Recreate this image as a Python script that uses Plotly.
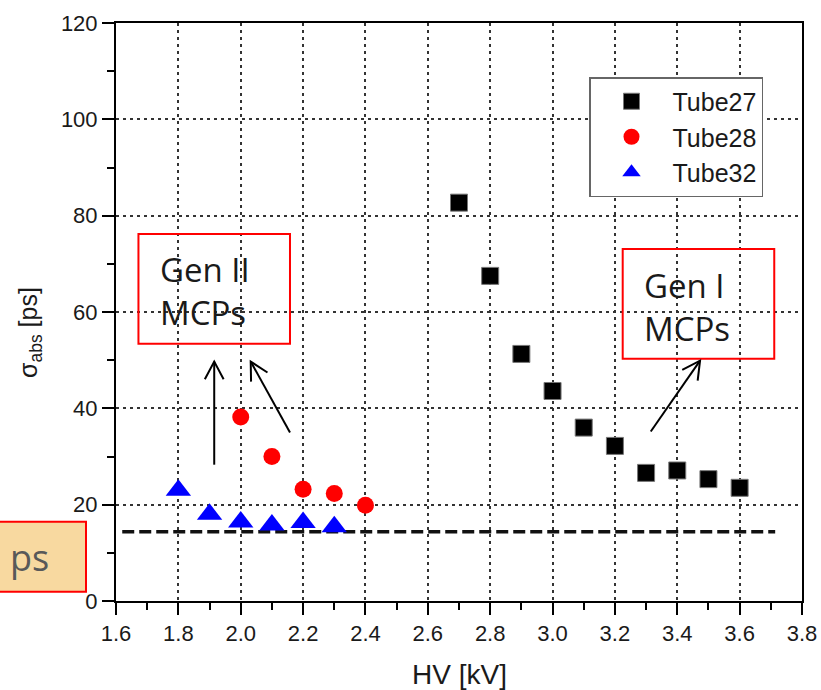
import math
import plotly.graph_objects as go

# ---------------- data ----------------
tube27_hv = [2.7, 2.8, 2.9, 3.0, 3.1, 3.2, 3.3, 3.4, 3.5, 3.6]
tube27_sigma = [82.7, 67.5, 51.3, 43.6, 36.0, 32.2, 26.6, 27.1, 25.3, 23.5]
tube28_hv = [2.0, 2.1, 2.2, 2.3, 2.4]
tube28_sigma = [38.2, 30.0, 23.2, 22.3, 19.9]
tube32_hv = [1.8, 1.9, 2.0, 2.1, 2.2, 2.3]
tube32_sigma = [23.0, 18.0, 16.4, 15.8, 16.3, 15.4]
ref_hv = [1.62, 3.714]
ref_sigma = [14.4, 14.4]

x_ticks = [1.6, 1.8, 2.0, 2.2, 2.4, 2.6, 2.8, 3.0, 3.2, 3.4, 3.6, 3.8]
y_ticks = [0, 20, 40, 60, 80, 100, 120]
x_range = [1.6, 3.8]
y_range = [0, 120]

# annotation boxes / arrows (data coordinates)
gen2_box = [1.672, 53.4, 2.158, 76.2]
gen1_box = [3.225, 50.3, 3.711, 73.1]
arrows = [
    ((3.315, 35.2), (3.473, 49.9)),
    ((1.915, 28.3), (1.915, 49.7)),
    ((2.158, 35.0), (2.032, 49.7)),
]

W, H = 821, 690
M = dict(l=116, r=19, t=23, b=89)
PW = W - M["l"] - M["r"]
PH = H - M["t"] - M["b"]
sx = PW / (x_range[1] - x_range[0])
sy = PH / (y_range[1] - y_range[0])

FONT = "Liberation Sans, Arial, sans-serif"
TXT = "#1a1a1a"

fig = go.Figure()
fig.add_trace(go.Scatter(x=ref_hv, y=ref_sigma, mode="lines",
                         line=dict(color="#111", width=3.5, dash="12px,5px"),
                         showlegend=False, hoverinfo="skip"))
fig.add_trace(go.Scatter(x=tube27_hv, y=tube27_sigma, mode="markers", name="Tube27",
                         marker=dict(symbol="square", size=17, color="black",
                                     line=dict(color="#777", width=1))))
fig.add_trace(go.Scatter(x=tube28_hv, y=tube28_sigma, mode="markers", name="Tube28",
                         marker=dict(symbol="circle", size=17, color="#ff0000",
                                     line=dict(width=0))))
fig.add_trace(go.Scatter(x=tube32_hv, y=tube32_sigma, mode="markers", name="Tube32",
                         marker=dict(symbol="triangle-up", size=22, color="#0000ff",
                                     line=dict(width=0))))

axis_common = dict(
    showline=True, linewidth=2, linecolor="black", mirror=True,
    ticks="outside", ticklen=12, tickwidth=2, tickcolor="black",
    showgrid=True, gridcolor="#333", gridwidth=1.5, griddash="3px,4px",
    zeroline=False, automargin=False,
    tickfont=dict(family=FONT, size=22, color=TXT),
)
fig.update_xaxes(range=x_range, tickvals=x_ticks, tickformat=".1f",
                 minor=dict(dtick=0.1, ticklen=7, tickwidth=2, tickcolor="black",
                            ticks="outside", showgrid=False),
                 **axis_common)
fig.update_yaxes(range=y_range, tickvals=y_ticks,
                 minor=dict(dtick=10, ticklen=7, tickwidth=2, tickcolor="black",
                            ticks="outside", showgrid=False),
                 **axis_common)

shapes = []
for b in (gen2_box, gen1_box):
    shapes.append(dict(type="rect", xref="x", yref="y", x0=b[0], y0=b[1], x1=b[2], y1=b[3],
                       line=dict(color="#ff0000", width=2), fillcolor="rgba(0,0,0,0)"))

HEAD_L = 20
HEAD_A = math.radians(28)
for (x1, y1), (x2, y2) in arrows:
    shapes.append(dict(type="line", xref="x", yref="y", x0=x1, y0=y1, x1=x2, y1=y2,
                       line=dict(color="black", width=2)))
    dx, dy = (x2 - x1) * sx, (y2 - y1) * sy
    n = math.hypot(dx, dy)
    ux, uy = dx / n, dy / n
    pts = []
    for a in (HEAD_A, -HEAD_A):
        rx = ux * math.cos(a) - uy * math.sin(a)
        ry = ux * math.sin(a) + uy * math.cos(a)
        pts.append((x2 - HEAD_L * rx / sx, y2 - HEAD_L * ry / sy))
    path = f"M{pts[0][0]},{pts[0][1]} L{x2},{y2} L{pts[1][0]},{pts[1][1]}"
    shapes.append(dict(type="path", xref="x", yref="y", path=path,
                       line=dict(color="black", width=2)))

# cropped "ps" box at the lower left (outside the plot)
shapes.append(dict(type="rect", xref="paper", yref="paper",
                   x0=-0.20, x1=(86 - M["l"]) / PW,
                   y0=(PH - (591.7 - M["t"])) / PH, y1=(PH - (521.7 - M["t"])) / PH,
                   fillcolor="#f8d9a0", line=dict(color="#ff0000", width=2), layer="above"))

annotations = [
    dict(x=1.7357, y=64.4, xref="x", yref="y", text="Gen II<br>MCPs", showarrow=False,
         xanchor="left", yanchor="middle", align="left",
         font=dict(family="Open Sans, sans-serif", size=33, color=TXT)),
    dict(x=3.287, y=61.1, xref="x", yref="y", text="Gen I<br>MCPs", showarrow=False,
         xanchor="left", yanchor="middle", align="left",
         font=dict(family="Open Sans, sans-serif", size=33, color=TXT)),
    dict(x=(8 - M["l"]) / PW, y=(PH - (557 - M["t"])) / PH, xref="paper", yref="paper",
         text="ps", showarrow=False, xanchor="left", yanchor="middle",
         font=dict(family="Open Sans, sans-serif", size=36, color="#595959")),
    dict(x=0.5, y=(PH - (657 - M["t"])) / PH, xref="paper", yref="paper", text="HV [kV]",
         showarrow=False, xanchor="center", yanchor="top",
         font=dict(family=FONT, size=28, color=TXT)),
    dict(x=(30 - M["l"]) / PW, y=(PH - (332 - M["t"])) / PH, xref="paper", yref="paper",
         text="σ<sub>abs</sub> [ps]", textangle=-90, showarrow=False,
         xanchor="center", yanchor="middle", font=dict(family=FONT, size=25, color=TXT)),
]

fig.update_layout(
    width=W, height=H, margin=M,
    paper_bgcolor="white", plot_bgcolor="white",
    shapes=shapes, annotations=annotations,
    legend=dict(x=(589 - M["l"]) / PW, y=(PH - (77 - M["t"])) / PH,
                xanchor="left", yanchor="top",
                bgcolor="white", bordercolor="#666", borderwidth=1.5,
                itemwidth=72, font=dict(family=FONT, size=25, color=TXT),
                tracegroupgap=0),
    showlegend=True,
)

fig.write_html("out.html")
